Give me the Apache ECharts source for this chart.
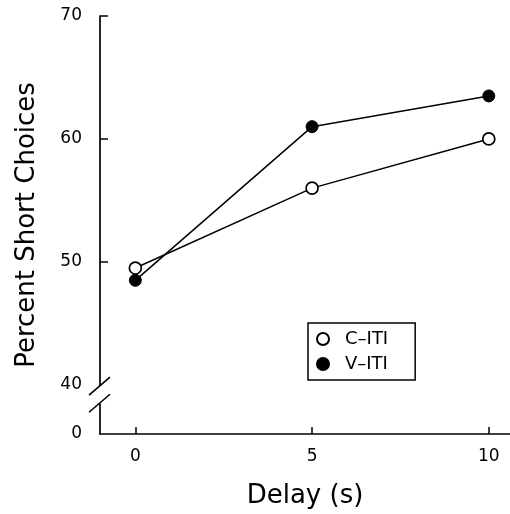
<!DOCTYPE html>
<html>
<head>
<meta charset="utf-8">
<script src="https://cdn.jsdelivr.net/npm/echarts@6/dist/echarts.min.js"></script>
<style>
  html, body { margin: 0; padding: 0; background: #fff; }
  #main { width: 510px; height: 514px; }
</style>
</head>
<body>
<div id="main"></div>
<script>
// delay (s) on x
var delays = [0, 5, 10];
var cIti = [49.5, 56.0, 60.0];
var vIti = [48.5, 61.0, 63.5];
var xTicks = [0, 5, 10];
// y axis is broken below 40: the "0" label sits on a virtual value of 36
var yBase = 36;
var yTicks = [50, 60, 70];
var yLabels = [36, 40, 50, 60, 70];

var chart = echarts.init(document.getElementById('main'));
var font = 'DejaVu Sans';

function pairs(xs, ys) {
  return xs.map(function (x, i) { return [x, ys[i]]; });
}

var option = {
  backgroundColor: '#fff',
  animation: false,
  textStyle: { fontFamily: font, color: '#000' },
  grid: { left: 100, right: 0, top: 16, bottom: 77 },
  legend: {
    data: ['C–ITI', 'V–ITI'],
    orient: 'vertical',
    left: 308,
    top: 323,
    icon: 'circle',
    itemWidth: 12,
    itemHeight: 12,
    itemGap: 7,
    padding: [7, 27, 7, 8],
    borderColor: '#000',
    borderWidth: 1.5,
    textStyle: { fontFamily: font, fontSize: 18, color: '#000', padding: [0, 0, 0, 11] }
  },
  xAxis: {
    type: 'value',
    min: -1,
    max: 10.6,
    name: 'Delay (s)',
    nameLocation: 'middle',
    nameGap: 49,
    nameTextStyle: { fontFamily: font, fontSize: 26, color: '#000' },
    axisLine: { onZero: false, lineStyle: { color: '#000', width: 1.7 } },
    axisTick: { inside: true, length: 7, customValues: xTicks, lineStyle: { color: '#000', width: 1.5 } },
    axisLabel: { customValues: xTicks, fontSize: 17, color: '#000', margin: 14, fontFamily: font },
    splitLine: { show: false }
  },
  yAxis: {
    type: 'value',
    min: yBase,
    max: 70,
    name: 'Percent Short Choices',
    nameLocation: 'middle',
    nameGap: 60,
    nameTextStyle: { fontFamily: font, fontSize: 26, color: '#000' },
    axisLine: { onZero: false, lineStyle: { color: '#000', width: 1.7 } },
    axisTick: { inside: true, length: 8, customValues: yTicks, lineStyle: { color: '#000', width: 1.5 } },
    axisLabel: {
      customValues: yLabels,
      fontSize: 17,
      color: '#000',
      margin: 18,
      fontFamily: font,
      formatter: function (v) { return v === yBase ? '0' : String(v); }
    },
    splitLine: { show: false }
  },
  series: [
    {
      name: 'V–ITI',
      type: 'line',
      data: pairs(delays, vIti),
      symbol: 'circle',
      symbolSize: 12,
      lineStyle: { color: '#000', width: 1.5 },
      itemStyle: { color: '#000', borderColor: '#000', borderWidth: 1 }
    },
    {
      name: 'C–ITI',
      type: 'line',
      data: pairs(delays, cIti),
      symbol: 'circle',
      symbolSize: 12,
      showAllSymbol: true,
      lineStyle: { color: '#000', width: 1.5 },
      itemStyle: { color: '#fff', borderColor: '#000', borderWidth: 1.7 }
    }
  ]
};

chart.setOption(option);

// axis break marks: cut the axis line and draw two slashes
var ax = chart.convertToPixel({ xAxisIndex: 0 }, -1);
var yA = chart.convertToPixel({ yAxisIndex: 0 }, 39.9);
var yB = chart.convertToPixel({ yAxisIndex: 0 }, 38.5);
chart.setOption({
  graphic: [
    { type: 'rect', z: 100, shape: { x: ax - 3, y: yA, width: 6, height: yB - yA }, style: { fill: '#fff' } },
    { type: 'line', z: 101, shape: { x1: ax - 11, y1: yA + 9, x2: ax + 10, y2: yA - 9 }, style: { stroke: '#000', lineWidth: 1.6 } },
    { type: 'line', z: 101, shape: { x1: ax - 11, y1: yB + 9, x2: ax + 10, y2: yB - 9 }, style: { stroke: '#000', lineWidth: 1.6 } }
  ]
});
</script>
</body>
</html>
